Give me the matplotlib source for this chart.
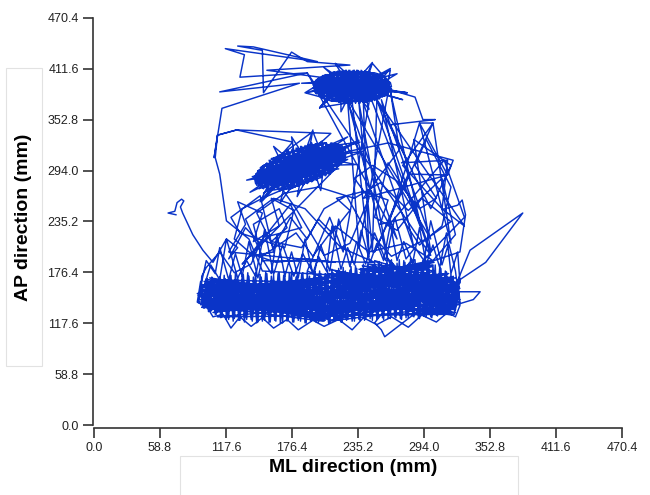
import matplotlib
matplotlib.use("Agg")
import matplotlib.pyplot as plt
from matplotlib.patches import Rectangle

# ---- trajectory (ML, AP in mm), in drawing order ----
hook_ml = [73, 66, 72, 74, 78, 80, 77, 79, 88, 97, 106, 118, 128, 120, 135, 148, 140, 125, 112, 100, 96]
hook_ap = [243, 245, 247, 257, 261, 259, 252, 245, 220, 202, 188, 215, 205, 192, 228, 210, 186, 176, 200, 182, 172]

baseL_ml = [95, 210, 98, 205, 96, 214, 104, 200, 96, 212, 102, 207, 96, 215, 99, 203, 101, 209, 102, 211,
            95, 204, 101, 213, 93, 206, 108, 210, 98, 202, 100, 214, 99, 208, 103, 205, 94, 212, 103, 207,
            96, 215, 105, 203, 92, 209, 103, 211, 106, 204, 95, 213, 102, 206, 97, 210, 95, 208, 104, 201]
baseL_ap = [148, 124, 160, 135, 136, 160, 133, 170, 155, 121, 168, 145, 136, 128, 163, 152, 135, 166, 145, 131,
            157, 120, 137, 171, 150, 140, 131, 158, 166, 126, 142, 148, 137, 169, 158, 123, 145, 137, 134, 162,
            162, 143, 135, 156, 152, 127, 170, 150, 130, 165, 139, 133, 161, 121, 147, 172, 140, 138, 165, 147]

baseF_ml = [92, 95, 97, 100, 102, 105, 108, 110, 113, 116, 118, 121, 124, 126, 129, 132, 134, 137, 140, 142,
            145, 148, 150, 153, 156, 158, 161, 164, 166, 169, 172, 174, 177, 180, 182, 185, 188, 190, 193, 196,
            198, 201, 204, 206, 209, 212, 214, 217, 220, 222, 225, 228, 230, 233, 236, 238, 241, 244, 246, 249,
            252, 254, 257, 260, 262, 265, 268, 270, 273, 276, 278, 281, 284, 286, 289, 292, 294, 297, 300, 302,
            305, 308, 310, 313, 316, 318, 321, 324, 326]
baseF_ap = [142, 166, 136, 169, 131, 171, 128, 168, 124, 173, 122, 170, 120, 175, 121, 172, 119, 176, 122, 171,
            118, 174, 120, 177, 119, 172, 121, 175, 118, 173, 120, 176, 119, 171, 121, 174, 118, 177, 120, 173,
            119, 178, 121, 175, 118, 180, 120, 176, 119, 182, 121, 179, 120, 184, 122, 181, 121, 187, 123, 184,
            122, 189, 124, 186, 123, 191, 125, 187, 123, 190, 124, 188, 126, 191, 124, 187, 126, 189, 125, 184,
            127, 182, 128, 178, 130, 174, 134, 168, 142]

fuzzA_ml = [95, 100, 108, 112, 120, 126, 132, 138, 146, 150, 158, 163, 170, 176, 182, 188, 195, 200, 207, 212,
            220, 226, 232, 238, 246, 252, 258, 264, 270, 276, 284, 290, 296, 302, 308, 314, 318, 324, 326]
fuzzA_ap = [160, 190, 175, 205, 168, 198, 172, 212, 170, 192, 175, 220, 172, 200, 170, 215, 175, 195, 178, 230,
            180, 205, 185, 225, 188, 210, 190, 232, 190, 212, 188, 228, 186, 208, 182, 222, 175, 200, 165]

climb1_ml = [150, 138, 118, 112, 108, 110, 127, 177]
climb1_ap = [178, 215, 236, 290, 309, 335, 341, 327]

mid_ml = [144, 223, 155, 216, 146, 218, 151, 224, 165, 203, 147, 216, 158, 210, 195, 146, 226, 174, 194, 153,
          211, 151, 219, 237, 155, 214, 167, 201, 141, 226, 151, 217, 164, 204, 181, 187, 148, 157, 211, 164,
          204, 176, 192, 174, 195]
mid_ap = [279, 310, 272, 325, 286, 296, 300, 320, 270, 328, 273, 318, 308, 290, 339, 293, 307, 272, 326, 285,
          325, 268, 324, 327, 295, 299, 309, 289, 287, 314, 286, 312, 279, 319, 277, 321, 258, 282, 318, 295,
          301, 309, 289, 287, 311]

midC_ml = [143, 224, 218, 144, 146, 217, 214, 148, 151, 207, 202, 158, 164, 195, 202, 176, 169, 212, 216, 162,
           156, 220, 222, 151, 148, 224, 224, 144, 143, 223, 158, 207, 210, 162, 155, 205, 212, 163]
midC_ap = [284, 312, 324, 289, 293, 324, 325, 297, 300, 326, 326, 307, 311, 324, 286, 274, 272, 293, 296, 272,
           272, 302, 305, 274, 275, 309, 318, 279, 285, 320, 294, 317, 304, 281, 300, 321, 298, 276]

midF_ml = [143, 150, 146, 155, 149, 160, 153, 164, 156, 169, 160, 173, 164, 177, 168, 182, 172, 186, 176, 190,
           180, 194, 184, 198, 188, 202, 193, 206, 197, 210, 202, 213, 206, 217, 211, 220, 216, 224, 221]
midF_ap = [288, 274, 294, 272, 298, 272, 302, 272, 306, 272, 308, 273, 311, 274, 314, 276, 316, 277, 318, 279,
           320, 281, 322, 283, 323, 286, 324, 288, 325, 291, 326, 294, 326, 298, 326, 302, 325, 307, 323]

midFz_ml = [184, 195, 190, 176, 180, 160, 170, 136, 160, 139, 165, 150, 172, 166, 186, 181, 195, 202, 205, 236,
            210, 239, 205, 233, 200, 226, 190, 211]
midFz_ap = [300, 341, 305, 333, 300, 322, 296, 283, 288, 269, 285, 259, 290, 257, 295, 264, 298, 271, 305, 329,
            312, 316, 300, 301, 310, 333, 312, 337]

climb2_ml = [127, 110, 107, 114, 183, 112, 190, 130, 134, 117, 199, 142, 128, 150, 151, 176, 190, 228, 154, 225]
climb2_ap = [341, 335, 309, 366, 395, 385, 407, 402, 428, 435, 420, 437, 438, 433, 384, 431, 420, 416, 410, 398]

top_ml = [263, 198, 247, 218, 208, 256, 197, 263, 224, 236, 248, 260, 204, 200, 247, 236, 197, 262, 213, 213,
          264, 262, 198, 242, 252, 208, 188, 218, 252, 264, 196, 242, 224, 204, 260, 256, 200, 230, 201, 230,
          252, 208, 236, 224, 214, 246, 246, 214, 224, 236, 208, 279, 252]
top_ap = [394, 385, 407, 373, 405, 379, 394, 388, 409, 373, 418, 400, 379, 400, 375, 409, 388, 385, 407, 375,
          410, 397, 397, 373, 405, 377, 384, 408, 377, 391, 391, 408, 373, 403, 382, 403, 382, 409, 367, 373,
          394, 388, 403, 379, 400, 382, 400, 382, 403, 379, 394, 384, 388]

topC_ml = [195, 265, 264, 196, 198, 262, 259, 201, 205, 255, 250, 210, 215, 245, 244, 216, 210, 250, 255, 205,
           201, 259, 262, 198, 196, 264, 265, 195, 200, 260]
topC_ap = [393, 391, 396, 395, 399, 398, 402, 401, 404, 405, 407, 406, 408, 408, 374, 374, 375, 376, 378, 377,
           380, 380, 383, 383, 386, 386, 389, 389, 392, 394]

topF_ml = [197, 198, 200, 202, 204, 205, 207, 209, 211, 212, 214, 216, 218, 219, 221, 223, 225, 226, 228, 230,
           232, 233, 235, 237, 239, 240, 242, 244, 246, 247, 249, 251, 253, 254, 256, 258, 260, 261, 263]
topF_ap = [397, 383, 401, 380, 404, 377, 405, 376, 407, 374, 408, 374, 409, 373, 409, 372, 410, 372, 410, 372,
           410, 372, 410, 372, 409, 373, 409, 374, 408, 374, 407, 376, 405, 377, 404, 380, 401, 383, 397]

topFz_ml = [230, 248, 240, 264, 250, 279, 250, 275, 240, 245, 230, 220, 220, 201, 215, 190, 212, 185, 218, 205,
            225, 215, 235, 270, 252]
topFz_ap = [392, 419, 395, 412, 390, 384, 386, 376, 388, 365, 388, 362, 390, 366, 392, 384, 395, 395, 398, 413,
            396, 418, 395, 406, 392]

drop_ml = [286, 293, 304, 264, 279, 274, 315, 310, 324, 328, 331, 326]
drop_ap = [379, 353, 353, 347, 306, 303, 306, 249, 254, 260, 243, 200]

baseR_ml = [210, 322, 213, 318, 208, 325, 215, 316, 211, 320, 207, 324, 214, 315, 209, 321, 212, 326, 216, 317,
            206, 323, 213, 319, 210, 325, 208, 318, 215, 322, 211, 316, 214, 324, 207, 320, 212, 317, 209, 323,
            216, 321, 206, 319, 213, 326, 210, 315, 208, 322]
baseR_ap = [150, 140, 170, 160, 128, 152, 178, 132, 140, 166, 160, 145, 124, 170, 175, 135, 132, 158, 165, 128,
            145, 163, 122, 150, 180, 139, 137, 168, 155, 130, 126, 162, 172, 148, 133, 171, 163, 137, 120, 155,
            176, 143, 152, 127, 168, 164, 130, 175, 158, 133]

hump_ml = [238, 302, 240, 305, 236, 300, 242, 304, 245, 298, 237, 303, 241, 306, 239, 299, 244, 301, 236, 305,
           250, 290, 262, 275, 285, 248]
hump_ap = [165, 185, 180, 170, 172, 190, 158, 178, 186, 160, 176, 188, 168, 165, 184, 175, 162, 183, 180, 168,
           190, 155, 192, 150, 191, 152]

baseB_ml = [325, 322, 320, 317, 314, 312, 309, 306, 304, 301, 298, 296, 293, 290, 288, 285, 282, 280, 277, 274,
            272, 269, 266, 264, 261, 258, 256, 253, 250, 248, 245, 242, 240, 237, 234, 232, 229, 226, 224, 221,
            218, 216, 213, 210, 208, 205, 202, 200, 197, 194, 192, 189, 186, 184, 181, 178, 176, 173, 170, 168,
            165, 162, 160, 157, 154, 152, 149, 146, 144, 141, 138, 136, 133, 130, 128, 125, 122, 120, 117, 114,
            112, 109, 106, 104, 101, 98, 96, 93]
baseB_ap = [160, 133, 172, 129, 177, 127, 181, 126, 185, 124, 188, 125, 190, 123, 186, 125, 192, 124, 188, 122,
            191, 124, 187, 123, 190, 122, 186, 124, 188, 121, 183, 123, 186, 121, 181, 120, 183, 122, 178, 119,
            181, 121, 176, 118, 179, 120, 175, 119, 177, 121, 172, 118, 176, 120, 173, 119, 177, 121, 172, 118,
            176, 120, 173, 119, 175, 121, 171, 119, 176, 120, 172, 122, 174, 121, 170, 123, 173, 122, 169, 125,
            171, 128, 167, 131, 169, 135, 163, 141]

fuzzB_ml = [100, 106, 115, 122, 130, 140, 150, 160, 172, 182, 195, 205, 218, 230, 240, 252, 265, 280, 292, 305,
            315, 322, 326, 322, 316, 310, 300, 294, 286, 278, 268, 260, 250, 242, 234, 228, 218, 210, 202, 196,
            186, 178, 168, 160, 152, 144, 136, 128, 118, 112, 104, 98]
fuzzB_ap = [138, 125, 128, 112, 125, 114, 124, 112, 122, 110, 121, 114, 122, 110, 124, 116, 125, 113, 127, 119,
            130, 125, 138, 178, 210, 185, 236, 190, 205, 192, 240, 190, 222, 186, 212, 183, 238, 178, 208, 174,
            198, 172, 208, 174, 226, 172, 190, 170, 215, 168, 185, 160]

wide_ml = [93, 326, 96, 322, 100, 318, 105, 324, 95, 320, 108, 316, 98, 325, 110, 321]
wide_ap = [150, 145, 160, 170, 140, 132, 168, 160, 145, 138, 133, 175, 155, 150, 125, 128]

right_ml = [326, 349, 382, 335, 320, 344, 338, 300, 288, 259, 256, 250]
right_ap = [168, 188, 245, 202, 154, 154, 145, 130, 131, 102, 110, 118]

wander_ml = [300, 285, 262, 250, 270, 292, 318, 296, 265, 240, 225, 205, 190, 175, 160, 145, 170, 200, 232, 255,
             280, 310, 322, 302, 278, 245, 215, 195, 180, 150, 135, 160, 188, 220, 250]
wander_ap = [200, 255, 303, 240, 225, 262, 235, 215, 195, 230, 265, 250, 215, 240, 205, 245, 268, 275, 262, 280,
             248, 285, 220, 190, 210, 200, 230, 195, 222, 195, 238, 262, 250, 205, 188]

wander2_ml = [150, 142, 165, 172, 158, 185, 200, 212, 228, 216, 240, 262, 255, 275, 290, 310, 318, 296, 286, 305,
              290, 270, 248, 232, 245, 228, 205, 180, 168, 150, 132, 125, 140, 162, 190, 215]
wander2_ap = [190, 232, 250, 228, 212, 205, 238, 222, 248, 262, 270, 260, 232, 238, 208, 230, 275, 330, 300, 262,
              250, 282, 300, 285, 262, 210, 196, 250, 272, 262, 250, 215, 198, 188, 192, 188]

wander4_ml = [120, 135, 128, 150, 142, 165, 158, 178, 170, 130, 122, 148, 160, 138, 175, 185, 155, 132]
wander4_ap = [200, 232, 258, 245, 212, 230, 262, 248, 205, 222, 240, 265, 200, 195, 255, 228, 218, 186]

midB_ml = [224, 217, 221, 212, 218, 207, 214, 203, 211, 198, 207, 194, 203, 190, 199, 185, 195, 181, 191, 177,
           187, 173, 183, 169, 179, 165, 174, 161, 170, 157, 165, 154, 161, 150, 156, 147, 151, 144, 145]
midB_ap = [308, 325, 303, 326, 299, 326, 295, 326, 292, 325, 289, 325, 286, 323, 284, 322, 282, 320, 280, 319,
           278, 317, 276, 314, 275, 312, 274, 309, 273, 306, 272, 303, 272, 299, 272, 295, 273, 290, 277]

side_ml = [226, 262, 320, 315, 290, 302, 275, 310, 330]
side_ap = [316, 326, 306, 289, 349, 349, 300, 250, 230]

wander3_ml = [252, 300, 318, 285, 300, 330, 312, 262, 290, 318, 302, 250, 280, 315, 240, 272]
wander3_ap = [376, 250, 300, 330, 200, 240, 306, 230, 349, 210, 349, 200, 290, 289, 262, 318]

topB_ml = [264, 262, 261, 259, 257, 255, 254, 252, 250, 248, 247, 245, 243, 241, 240, 238, 236, 234, 233, 231,
           229, 227, 226, 224, 222, 220, 219, 217, 215, 213, 212, 210, 208, 206, 205, 203, 201, 199, 198, 196]
topB_ap = [387, 398, 382, 402, 379, 404, 377, 406, 375, 407, 374, 408, 373, 409, 373, 410, 372, 410, 372, 410,
           372, 410, 372, 410, 372, 409, 373, 409, 374, 408, 375, 407, 376, 405, 378, 403, 380, 400, 384, 395]

fall_ml = [230, 245, 240, 285, 256, 300, 226]
fall_ap = [374, 195, 372, 205, 376, 215, 376]

long_ml = [262, 236, 248, 252, 300, 190, 270, 226, 236, 263, 292, 246, 222, 210, 190, 240, 275, 180]
long_ap = [190, 373, 200, 376, 196, 407, 215, 374, 205, 391, 225, 380, 200, 240, 178, 150, 140, 135]

segments_ml = [hook_ml, baseL_ml, baseF_ml, fuzzA_ml, climb1_ml, mid_ml, midC_ml, midF_ml, midFz_ml,
               climb2_ml, top_ml, topC_ml, topF_ml, topFz_ml, drop_ml, baseR_ml, hump_ml, baseB_ml, fuzzB_ml,
               wide_ml, right_ml, wander_ml, wander2_ml, wander4_ml, midB_ml, side_ml, wander3_ml,
               topB_ml, fall_ml, long_ml]
segments_ap = [hook_ap, baseL_ap, baseF_ap, fuzzA_ap, climb1_ap, mid_ap, midC_ap, midF_ap, midFz_ap,
               climb2_ap, top_ap, topC_ap, topF_ap, topFz_ap, drop_ap, baseR_ap, hump_ap, baseB_ap, fuzzB_ap,
               wide_ap, right_ap, wander_ap, wander2_ap, wander4_ap, midB_ap, side_ap, wander3_ap,
               topB_ap, fall_ap, long_ap]

ml = [v for seg in segments_ml for v in seg]
ap = [v for seg in segments_ap for v in seg]

ticks = [0.0, 58.8, 117.6, 176.4, 235.2, 294.0, 352.8, 411.6, 470.4]
tick_labels = [f"{t:.1f}" for t in ticks]

plt.rcParams["font.family"] = ["Liberation Sans", "DejaVu Sans"]

fig = plt.figure(figsize=(6.5, 4.95), dpi=100)
ax = fig.add_axes([94 / 650, 70 / 495, 528 / 650, 407 / 495])
ax.plot(ml, ap, color="#0a34c8", lw=1.05)

ax.set_xlim(0, 470.4)
ax.set_ylim(0, 470.4)
ax.set_xticks(ticks)
ax.set_xticklabels(tick_labels)
ax.set_yticks(ticks)
ax.set_yticklabels(tick_labels)
for s in ("top", "right"):
    ax.spines[s].set_visible(False)
for s in ("left", "bottom"):
    ax.spines[s].set_color("#333333")
    ax.spines[s].set_linewidth(1.2)
ax.spines["bottom"].set_position(("outward", 2))
ax.spines["left"].set_position(("outward", 1))
ax.tick_params(direction="out", length=7, width=1.2, color="#333333",
               labelsize=9, pad=3, labelcolor="#222222")

fig.text(353 / 650, 1 - 468 / 495, "ML direction (mm)", ha="center", va="center",
         fontsize=14, fontweight="bold")
fig.text(24 / 650, 1 - 217 / 495, "AP direction (mm)", ha="center", va="center",
         fontsize=14, fontweight="bold", rotation=90)

fig.add_artist(Rectangle((6 / 650, 1 - 366 / 495), 36 / 650, 298 / 495, transform=fig.transFigure,
                         fill=False, ec="#e2e2e2", lw=0.8))
fig.add_artist(Rectangle((180 / 650, -0.01), 338 / 650, 39 / 495 + 0.01, transform=fig.transFigure,
                         fill=False, ec="#e2e2e2", lw=0.8))

fig.savefig("out.png", dpi=100)
